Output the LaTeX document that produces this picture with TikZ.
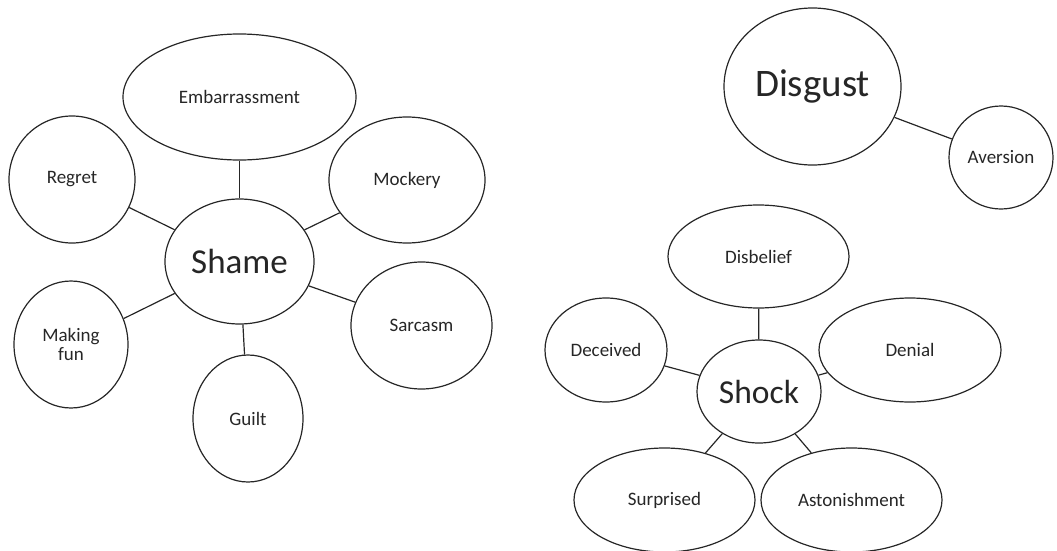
\documentclass[tikz,border=0pt]{standalone}
\usepackage{fontspec}
\setmainfont{Carlito}
\usetikzlibrary{shapes.geometric}
\begin{document}
\begin{tikzpicture}[x=1pt,y=-1pt,
  bubble/.style={draw=black!85, ellipse, line width=1.2pt, inner sep=0pt,
    text=black!85, font=\fontsize{19}{19.5}\selectfont, align=center},
  hub/.style={bubble, font=\fontsize{35}{40}\selectfont},
  link/.style={draw=black!85, line width=1.2pt}]
\useasboundingbox (0,0) rectangle (1057,551);

% Shame cluster
\node[hub, minimum width=149pt, minimum height=125pt] (shame) at (239.5,261.5) {Shame};
\node[bubble, minimum width=233pt, minimum height=126pt] (emb) at (239.5,97) {Embarrassment};
\node[bubble, minimum width=126pt, minimum height=127pt] (regret) at (72,179.5) {Regret};
\node[bubble, minimum width=156pt, minimum height=126pt] (mock) at (407,180) {Mockery};
\node[bubble, minimum width=114pt, minimum height=127pt] (fun) at (71,344.5) {Making\\fun};
\node[bubble, minimum width=110pt, minimum height=127pt] (guilt) at (248,418.5) {Guilt};
\node[bubble, minimum width=141pt, minimum height=127pt] (sarc) at (421.5,325.5) {Sarcasm};

\draw[link] (shame) -- (emb);
\draw[link] (shame) -- (regret);
\draw[link] (shame) -- (mock);
\draw[link] (shame) -- (fun);
\draw[link] (shame) -- (guilt);
\draw[link] (shame) -- (sarc);

% Disgust cluster
\node[hub, font=\fontsize{39}{44}\selectfont, minimum width=177pt, minimum height=157pt] (disgust) at (812.5,86.5) {Disgust};
\node[bubble, minimum width=104pt, minimum height=103pt] (avers) at (1001,157.5) {Aversion};
\draw[link] (disgust) -- (avers);

% Shock cluster
\node[hub, font=\fontsize{33.5}{38}\selectfont, minimum width=124pt, minimum height=103pt] (shock) at (759,391.5) {Shock};
\node[bubble, minimum width=181pt, minimum height=103pt] (disb) at (758.5,256.5) {Disbelief};
\node[bubble, minimum width=122pt, minimum height=104pt] (dec) at (606,350) {Deceived};
\node[bubble, minimum width=182pt, minimum height=104pt] (denial) at (910,350) {Denial};
\node[bubble, minimum width=181pt, minimum height=104pt] (surp) at (664.5,500) {Surprised};
\node[bubble, minimum width=181pt, minimum height=104pt] (aston) at (851.5,500) {Astonishment};

\draw[link] (shock) -- (disb);
\draw[link] (shock) -- (dec);
\draw[link] (shock) -- (denial);
\draw[link] (shock) -- (surp);
\draw[link] (shock) -- (aston);
\end{tikzpicture}
\end{document}
